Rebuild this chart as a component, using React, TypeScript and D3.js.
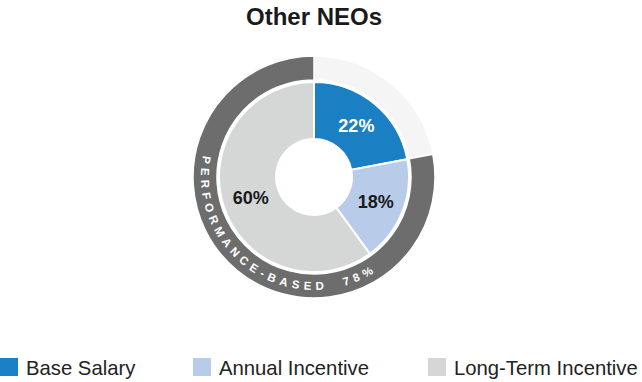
import React from "react";
import * as d3 from "d3";

const categories = ["Base Salary", "Annual Incentive", "Long-Term Incentive"];
const values = [22, 18, 60];
const labels = ["22%", "18%", "60%"];
const ringValues = [22, 78];
const ringLabel = "PERFORMANCE-BASED  78%";
const title = "Other NEOs";

const colors = ["#1a7fc3", "#b8cce9", "#d5d6d6"];
const labelColors = ["#ffffff", "#1a1a1a", "#1a1a1a"];
const ringColors = ["#f5f5f5", "#6d6d6d"];

const FONT = "'Liberation Sans', Arial, sans-serif";

function charWidths(str: string, font: string): number[] {
  const canvas = document.createElement("canvas");
  const ctx = canvas.getContext("2d");
  if (ctx) ctx.font = font;
  return Array.from(str).map((ch) => (ctx ? ctx.measureText(ch).width : 7));
}

export default function App() {
  const W = 642, H = 382;
  const cx = 314, cy = 177;
  const pie = d3.pie<number>().sort(null).value((d) => d);
  const slices = pie(values);
  const ring = pie(ringValues);
  const arc = d3.arc<d3.PieArcDatum<number>>().innerRadius(38).outerRadius(95);
  const ringArc = d3.arc<d3.PieArcDatum<number>>().innerRadius(97).outerRadius(121);

  // characters placed along the ring, counterclockwise from the left side
  const rb = 113;
  const a0 = (281 * Math.PI) / 180;
  const fs = 11.5;
  const spacing = 4.7;
  const chars = Array.from(ringLabel);
  const widths = charWidths(ringLabel, `bold ${fs}px 'Liberation Sans'`);
  let s = 0;
  const placed = chars.map((ch, i) => {
    const mid = s + widths[i] / 2;
    s += widths[i] + spacing;
    const th = a0 - mid / rb;
    const x = cx + rb * Math.sin(th);
    const y = cy - rb * Math.cos(th);
    const rot = (Math.atan2(-Math.sin(th), -Math.cos(th)) * 180) / Math.PI;
    return { ch, x, y, rot };
  });

  const legendX = [0, 193, 428];

  return (
    <svg
      width={W}
      height={H}
      style={{ position: "absolute", left: 0, top: 0 }}
      fontFamily={FONT}
    >
      <rect width={W} height={H} fill="#ffffff" />
      <text x={cx} y={25} textAnchor="middle" fontSize={24} fontWeight="bold" fill="#1a1a1a">
        {title}
      </text>
      <g transform={`translate(${cx},${cy})`}>
        {ring.map((d, i) => (
          <path key={"r" + i} d={ringArc(d) || ""} fill={ringColors[i]} stroke="#ffffff" strokeWidth={1.5} />
        ))}
        {slices.map((d, i) => (
          <path key={"s" + i} d={arc(d) || ""} fill={colors[i]} stroke="#ffffff" strokeWidth={2} />
        ))}
        {slices.map((d, i) => {
          const [lx, ly] = arc.centroid(d);
          return (
            <text
              key={"l" + i}
              x={lx}
              y={ly}
              dy="0.35em"
              textAnchor="middle"
              fontSize={18}
              fontWeight="bold"
              fill={labelColors[i]}
            >
              {labels[i]}
            </text>
          );
        })}
      </g>
      {placed.map((c, i) =>
        c.ch === " " ? null : (
          <text
            key={"c" + i}
            transform={`translate(${c.x},${c.y}) rotate(${c.rot})`}
            textAnchor="middle"
            fontSize={fs}
            fontWeight="bold"
            fill="#ffffff"
          >
            {c.ch}
          </text>
        )
      )}
      {categories.map((c, i) => (
        <g key={"g" + i}>
          <rect x={legendX[i]} y={358} width={18} height={18} fill={colors[i]} />
          <text x={legendX[i] + 26} y={375} fontSize={20.3} fill="#222222">
            {c}
          </text>
        </g>
      ))}
    </svg>
  );
}
